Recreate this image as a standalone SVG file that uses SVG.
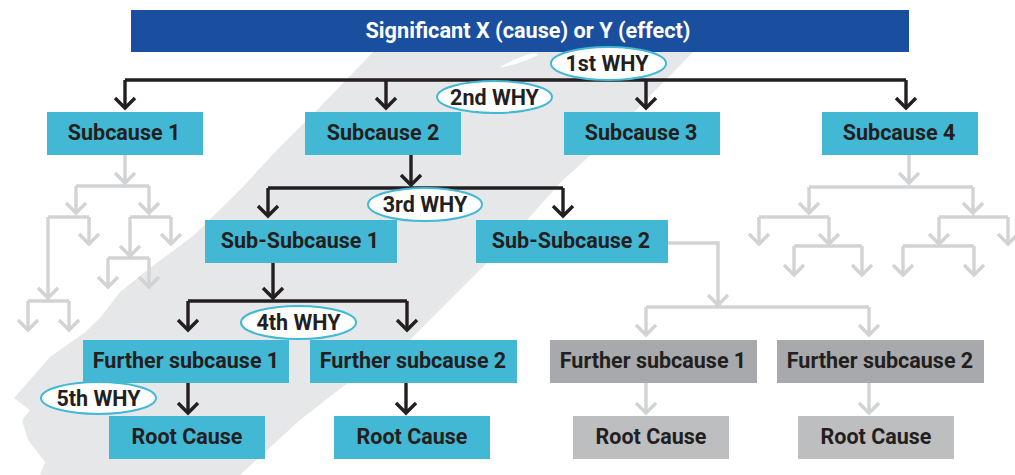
<svg xmlns="http://www.w3.org/2000/svg" width="1015" height="475" viewBox="0 0 1015 475">
<style>
.t{font-family:Roboto,"Liberation Sans",sans-serif;font-weight:700;font-size:21.5px;fill:#231f20;text-anchor:middle}
.title{fill:#ffffff;font-size:21.7px}
.cy{fill:#42b8d5}
.g1{fill:#a7a9ac}
.g2{fill:#bcbec0}
.why{fill:#ffffff;stroke:#42b8d5;stroke-width:2}
.k{fill:none;stroke:#231f20;stroke-width:3.4}
.ka{fill:none;stroke:#231f20;stroke-width:3.4;marker-end:url(#ah)}
.l{fill:none;stroke:#d1d3d4;stroke-width:3.4}
.la{fill:none;stroke:#d1d3d4;stroke-width:3.4;marker-end:url(#ahg)}
</style>
<defs>
<marker id="ah" viewBox="0 0 24 24" refX="12" refY="12" markerWidth="24" markerHeight="24" markerUnits="userSpaceOnUse" orient="auto" overflow="visible"><path d="M2,2 L12,12 L2,22" fill="none" stroke="#231f20" stroke-width="3.4"/></marker>
<marker id="ahg" viewBox="0 0 24 24" refX="12" refY="12" markerWidth="24" markerHeight="24" markerUnits="userSpaceOnUse" orient="auto" overflow="visible"><path d="M2,2 L12,12 L2,22" fill="none" stroke="#d1d3d4" stroke-width="3.4"/></marker>
</defs>
<rect width="1015" height="475" fill="#ffffff"/>
<g id="band">
<path d="M385,40 L700,40 L693,52 L607,140 L560,183 L505,245 L450,300 L410,340 L345,385 L300,420 L240,475 L40,475 L45,462 L28,440 L22,420 L30,410 L14,398 L50,357 L84,333 L100,318 L120,292 L150,268 L193,236 L240,190 L277,150 L320,107 L373,52 Z" fill="#e6e7e8"/>
<path d="M534,53 Q514,58 499,68 Q520,64 538,55 Z" fill="#ffffff"/>
</g>
<g id="connectors">
<path class="la" d="M125,155 V183"/>
<path class="l" d="M76,186 H149"/>
<path class="la" d="M76,186 V213"/>
<path class="la" d="M149,186 V213"/>
<path class="l" d="M48,217 H89"/>
<path class="la" d="M48,217 V298"/>
<path class="la" d="M89,217 V244"/>
<path class="l" d="M130,217 H171"/>
<path class="la" d="M130,217 V256"/>
<path class="la" d="M171,217 V244"/>
<path class="l" d="M108,258 H149"/>
<path class="la" d="M108,258 V287"/>
<path class="la" d="M149,258 V287"/>
<path class="l" d="M28,301 H69"/>
<path class="la" d="M28,301 V330"/>
<path class="la" d="M69,301 V330"/>
<path class="la" d="M909,155 V183"/>
<path class="l" d="M809,187 H973"/>
<path class="la" d="M809,187 V213"/>
<path class="la" d="M973,187 V213"/>
<path class="l" d="M759,217 H829"/>
<path class="la" d="M759,217 V244"/>
<path class="la" d="M829,217 V244"/>
<path class="l" d="M794,246 H862"/>
<path class="la" d="M794,246 V275"/>
<path class="la" d="M862,246 V275"/>
<path class="l" d="M939,217 H1008"/>
<path class="la" d="M939,217 V244"/>
<path class="la" d="M1008,217 V244"/>
<path class="l" d="M903,246 H974"/>
<path class="la" d="M903,246 V275"/>
<path class="la" d="M974,246 V275"/>
<path class="la" d="M668,243 H718 V305"/>
<path class="l" d="M646,307 H869"/>
<path class="la" d="M646,307 V335"/>
<path class="la" d="M869,307 V335"/>
<path class="la" d="M646,383 V413"/>
<path class="la" d="M869,383 V413"/>
<path class="k" d="M125,80 H906"/>
<path class="ka" d="M125,80 V108"/>
<path class="ka" d="M386,80 V108"/>
<path class="ka" d="M646,80 V108"/>
<path class="ka" d="M906,80 V108"/>
<path class="ka" d="M411,155 V185"/>
<path class="k" d="M268,188 H563"/>
<path class="ka" d="M268,188 V216"/>
<path class="ka" d="M563,188 V216"/>
<path class="ka" d="M273,263 V298"/>
<path class="k" d="M188,301 H407"/>
<path class="ka" d="M188,301 V330"/>
<path class="ka" d="M407,301 V330"/>
<path class="ka" d="M188,383 V413"/>
<path class="ka" d="M406,383 V413"/>
</g>
<g id="title"><rect x="131" y="10" width="778" height="42" fill="#1a4fa0"/><text class="t title" x="528" y="38">Significant X (cause) or Y (effect)</text></g>
<g id="why1"><ellipse class="why" cx="608.5" cy="63.5" rx="57.5" ry="16.5"/><text class="t" x="607" y="71">1st WHY</text></g>
<g id="why2"><ellipse class="why" cx="494.5" cy="97" rx="57.5" ry="16"/><text class="t" x="494.5" y="104.5">2nd WHY</text></g>
<g id="sub1"><rect class="cy" x="47" y="112" width="156" height="43"/><text class="t" x="124" y="139.5">Subcause 1</text></g>
<g id="sub2"><rect class="cy" x="305" y="112" width="156" height="43"/><text class="t" x="383" y="139.5">Subcause 2</text></g>
<g id="sub3"><rect class="cy" x="564" y="112" width="156" height="43"/><text class="t" x="641" y="139.5">Subcause 3</text></g>
<g id="sub4"><rect class="cy" x="822" y="112" width="156" height="43"/><text class="t" x="899" y="139.5">Subcause 4</text></g>
<g id="why3"><ellipse class="why" cx="425" cy="204.5" rx="57" ry="16.5"/><text class="t" x="425" y="212">3rd WHY</text></g>
<g id="ss1"><rect class="cy" x="205" y="220" width="192" height="43"/><text class="t" x="300" y="247.5">Sub-Subcause 1</text></g>
<g id="ss2"><rect class="cy" x="476" y="220" width="192" height="43"/><text class="t" x="571" y="247.5">Sub-Subcause 2</text></g>
<g id="why4"><ellipse class="why" cx="298.5" cy="322.5" rx="57.5" ry="16.5"/><text class="t" x="298.5" y="330">4th WHY</text></g>
<g id="fs1"><rect class="cy" x="83" y="340" width="206" height="43"/><text class="t" x="186" y="367.5">Further subcause 1</text></g>
<g id="fs2"><rect class="cy" x="310" y="340" width="207" height="43"/><text class="t" x="413" y="367.5">Further subcause 2</text></g>
<g id="fs3"><rect class="g1" x="550" y="340" width="207" height="43"/><text class="t" x="653" y="367.5">Further subcause 1</text></g>
<g id="fs4"><rect class="g1" x="777" y="340" width="207" height="43"/><text class="t" x="880" y="367.5">Further subcause 2</text></g>
<g id="why5"><ellipse class="why" cx="98.5" cy="398" rx="57.5" ry="16"/><text class="t" x="98.5" y="405.5">5th WHY</text></g>
<g id="rc1"><rect class="cy" x="109" y="416" width="156" height="43"/><text class="t" x="187" y="443.5">Root Cause</text></g>
<g id="rc2"><rect class="cy" x="334" y="416" width="156" height="43"/><text class="t" x="412" y="443.5">Root Cause</text></g>
<g id="rc3"><rect class="g2" x="573" y="416" width="156" height="43"/><text class="t" x="651" y="443.5">Root Cause</text></g>
<g id="rc4"><rect class="g2" x="798" y="416" width="156" height="43"/><text class="t" x="876" y="443.5">Root Cause</text></g>
</svg>
